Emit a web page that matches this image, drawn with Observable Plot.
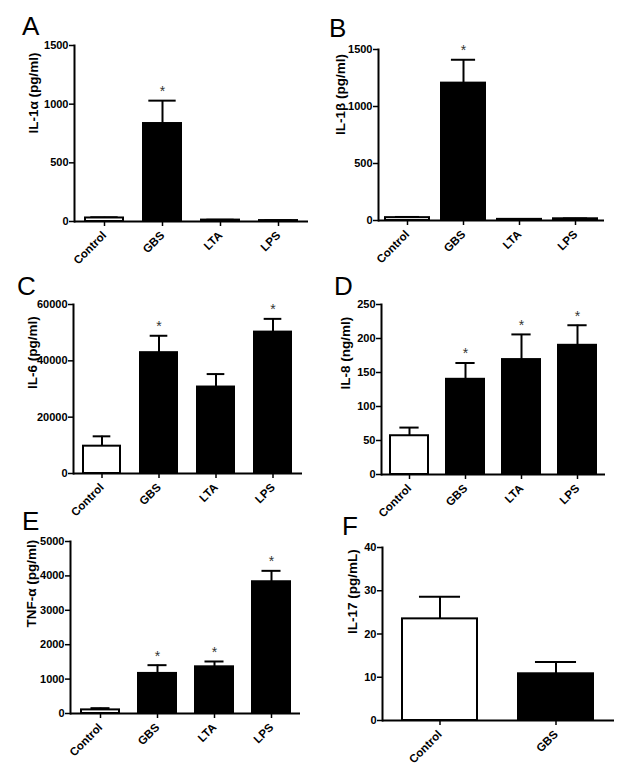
<!DOCTYPE html>
<html>
<head>
<meta charset="utf-8">
<script src="https://cdn.jsdelivr.net/npm/d3@7"></script>
<script src="https://cdn.jsdelivr.net/npm/@observablehq/plot@0.6"></script>
<style>
  html, body { margin: 0; padding: 0; background: #fff; }
  #fig { position: relative; width: 624px; height: 778px; overflow: hidden; background: #fff; }
  .panel { position: absolute; }
  .letter { position: absolute; font-family: "Liberation Sans", Arial, sans-serif; font-size: 26px; line-height: 26px; color: #000; }
</style>
</head>
<body>
<div id="fig"></div>
<script>
// ---------- data ----------
const groups4 = ["Control", "GBS", "LTA", "LPS"];
const groups2 = ["Control", "GBS"];

const il1aMean = [30, 835, 12, 8];
const il1aErr  = [6, 195, 3, 2];
const il1aSig  = [false, true, false, false];

const il1bMean = [25, 1205, 10, 15];
const il1bErr  = [6, 205, 2, 3];
const il1bSig  = [false, true, false, false];

const il6Mean = [9700, 42900, 30700, 50200];
const il6Err  = [3500, 6000, 4600, 4700];
const il6Sig  = [false, true, false, true];

const il8Mean = [57, 140, 169, 190];
const il8Err  = [12, 24, 37, 29.5];
const il8Sig  = [false, true, true, true];

const tnfMean = [105, 1165, 1357, 3830];
const tnfErr  = [50, 240, 155, 317];
const tnfSig  = [false, true, true, true];

const il17Mean = [23.5, 10.8];
const il17Err  = [5.1, 2.7];
const il17Sig  = [false, false];

const ticksA = [0, 500, 1000, 1500];
const ticksC = [0, 20000, 40000, 60000];
const ticksD = [0, 50, 100, 150, 200, 250];
const ticksE = [0, 1000, 2000, 3000, 4000, 5000];
const ticksF = [0, 10, 20, 30, 40];

// ---------- panel definitions ----------
const panels = [
  {letter: "A", label: "IL-1α (pg/ml)", cats: groups4, mean: il1aMean, err: il1aErr, sig: il1aSig, ticks: ticksA,
   box: {left: 0, top: 0, w: 312, h: 260, mL: 74, mR: 4, mT: 45, mB: 39}, pad: 0.35, cap: 0.72, labDx: -41, letterPos: [22, 35]},
  {letter: "B", label: "IL-1β (pg/ml)", cats: groups4, mean: il1bMean, err: il1bErr, sig: il1bSig, ticks: ticksA,
   box: {left: 312, top: 0, w: 312, h: 260, mL: 66, mR: 20, mT: 49, mB: 40}, pad: 0.22, cap: 0.55, labDx: -38, letterPos: [329, 37]},
  {letter: "C", label: "IL-6 (pg/ml)", cats: groups4, mean: il6Mean, err: il6Err, sig: il6Sig, ticks: ticksC,
   box: {left: 0, top: 260, w: 312, h: 260, mL: 73, mR: 10, mT: 44, mB: 47}, pad: 0.35, cap: 0.48, labDx: -41, letterPos: [17, 295]},
  {letter: "D", label: "IL-8 (ng/ml)", cats: groups4, mean: il8Mean, err: il8Err, sig: il8Sig, ticks: ticksD,
   box: {left: 312, top: 260, w: 312, h: 260, mL: 69, mR: 19, mT: 44, mB: 46}, pad: 0.33, cap: 0.5, labDx: -36, letterPos: [334, 295]},
  {letter: "E", label: "TNF-α (pg/ml)", cats: groups4, mean: tnfMean, err: tnfErr, sig: tnfSig, ticks: ticksE,
   box: {left: 0, top: 520, w: 312, h: 258, mL: 70, mR: 12, mT: 21, mB: 65}, pad: 0.34, cap: 0.5, labDx: -39, letterPos: [22, 530]},
  {letter: "F", label: "IL-17 (pg/mL)", cats: groups2, mean: il17Mean, err: il17Err, sig: il17Sig, ticks: ticksF,
   box: {left: 312, top: 520, w: 312, h: 258, mL: 70, mR: 10, mT: 27, mB: 58}, pad: 0.35, cap: 0.55, labDx: -30, letterPos: [342, 535]}
];

const fig = document.getElementById("fig");
const FONT = "'Liberation Sans', Arial, sans-serif";

for (const p of panels) {
  const data = p.cats.map((c, i) => ({cat: c, mean: p.mean[i], err: p.err[i], top: p.mean[i] + p.err[i], sig: p.sig[i]}));
  const b = p.box;
  const plotW = b.w - b.mL - b.mR;
  const step = plotW / p.cats.length;
  const bw = step * (1 - p.pad);
  const inset = (bw - bw * p.cap) / 2;
  const ymax = p.ticks[p.ticks.length - 1];

  const chart = Plot.plot({
    width: b.w, height: b.h,
    marginLeft: b.mL, marginRight: b.mR, marginTop: b.mT, marginBottom: b.mB,
    style: {overflow: "visible", background: "transparent", fontFamily: FONT, color: "#000"},
    x: {domain: p.cats, paddingInner: p.pad, paddingOuter: p.pad / 2, label: null},
    y: {domain: [0, ymax], label: null},
    marks: [
      Plot.ruleX(data, {x: "cat", y1: "mean", y2: "top", stroke: "#000", strokeWidth: 2}),
      Plot.tickY(data, {x: "cat", y: "top", stroke: "#000", strokeWidth: 2, insetLeft: inset, insetRight: inset}),
      Plot.barY(data, {x: "cat", y: "mean", fill: d => d.cat === "Control" ? "#fff" : "#000", stroke: "#000", strokeWidth: 2}),
      Plot.text(data.filter(d => d.sig), {x: "cat", y: "top", text: () => "*", dy: -9, fontSize: 14, fill: "#333"}),
      Plot.axisY({ticks: p.ticks, tickFormat: "d", tickSize: 5, tickPadding: 1, strokeWidth: 1.5, fontSize: 11, fontWeight: "bold", label: null}),
      Plot.text([p.label], {frameAnchor: "left", rotate: -90, dx: p.labDx, fontSize: 13.5, fontWeight: "bold", fill: "#000"}),
      Plot.axisX({tickRotate: -45, tickSize: 5, tickPadding: 7, strokeWidth: 1.5, fontSize: 11.5, fontWeight: "bold", label: null}),
      Plot.ruleY([0], {stroke: "#000", strokeWidth: 2}),
      Plot.frame({anchor: "left", stroke: "#000", strokeWidth: 2})
    ]
  });
  const holder = document.createElement("div");
  holder.className = "panel";
  holder.style.left = b.left + "px";
  holder.style.top = b.top + "px";
  holder.appendChild(chart);
  fig.appendChild(holder);

  const L = document.createElement("div");
  L.className = "letter";
  L.textContent = p.letter;
  L.style.left = p.letterPos[0] + "px";
  L.style.top = (p.letterPos[1] - 22) + "px";
  fig.appendChild(L);
}
</script>
</body>
</html>
